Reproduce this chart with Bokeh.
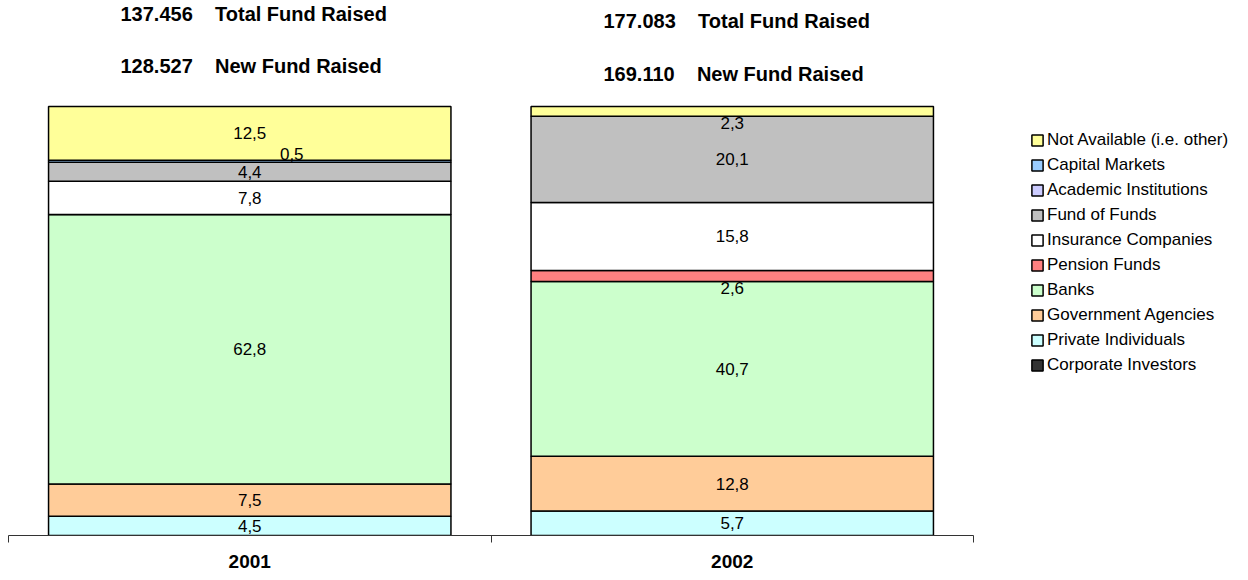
from bokeh.plotting import figure
from bokeh.models import (ColumnDataSource, Range1d, FixedTicker, Legend, LegendItem,
                          Label, LinearAxis)
from bokeh.core.properties import value
from bokeh.embed import file_html
from bokeh.resources import INLINE

# ---------------- data ----------------
years = ["2001", "2002"]
series = ["Corporate Investors", "Private Individuals", "Government Agencies", "Banks",
          "Pension Funds", "Insurance Companies", "Fund of Funds", "Academic Institutions",
          "Capital Markets", "Not Available (i.e. other)"]
corporate = [0.0, 0.0]
private = [4.5, 5.7]
government = [7.5, 12.8]
banks = [62.8, 40.7]
pension = [0.0, 2.6]
insurance = [7.8, 15.8]
fund_of_funds = [4.4, 20.1]
academic = [0.0, 0.0]
capital_markets = [0.5, 0.0]
not_available = [12.5, 2.3]
total_fund_raised = [137.456, 177.083]
new_fund_raised = [128.527, 169.110]

# ---------------- style ----------------
colors = ["#333333", "#CCFFFF", "#FFCC99", "#CCFFCC", "#FF8080", "#FFFFFF",
          "#C0C0C0", "#CCCCFF", "#99CCFF", "#FFFF99"]
# pixel nudges for labels of thin segments (year index, series index) -> (dx, dy)
label_nudge = {(0, 8): (42, -7), (1, 9): (0, 12), (1, 4): (0, 12)}
FONT = "Liberation Sans"
W, H = 1232, 570
TOP, BOTTOM, LEFT, RIGHT = 106, 535, 8, 973   # pixel box of the bars / axis

values = [corporate, private, government, banks, pension, insurance,
          fund_of_funds, academic, capital_markets, not_available]
n = len(years)

xs = [i + 0.5 for i in range(n)]
data = {"x": xs}
keys = []
for k, vals in enumerate(values):
    key = f"s{k}"
    keys.append(key)
    data[key] = vals
src = ColumnDataSource(data)

# frame spans the whole width and everything above the axis
xscale = (RIGHT - LEFT) / n
x0 = -LEFT / xscale
y_end = 100 * BOTTOM / (BOTTOM - TOP)

p = figure(width=W, height=H, output_backend="svg", toolbar_location=None,
           x_range=Range1d(x0, x0 + W / xscale), y_range=Range1d(0, y_end),
           min_border_left=0, min_border_right=0, min_border_top=0,
           min_border_bottom=H - BOTTOM, title=None,
           x_axis_location=None, y_axis_location=None)
p.outline_line_color = None
p.xgrid.visible = False
p.ygrid.visible = False
p.background_fill_color = "white"
p.border_fill_color = "white"

renderers = p.vbar_stack(keys, x="x", width=0.834, source=src, fill_color=colors,
                         line_color="#000000", line_width=1.5)

# data labels
lx, ly, lt, dx, dy = [], [], [], [], []
for i in range(n):
    base = 0.0
    for k, vals in enumerate(values):
        v = vals[i]
        if v > 0:
            lx.append(xs[i])
            ly.append(base + v / 2)
            lt.append(f"{v:.1f}".replace(".", ","))
            ox, oy = label_nudge.get((i, k), (0, 0))
            dx.append(ox)
            dy.append(oy)
        base += v
lsrc = ColumnDataSource(dict(x=lx, y=ly, t=lt, dx=dx, dy=dy))
p.text(x="x", y="y", text="t", x_offset="dx", y_offset="dy", source=lsrc,
       text_font=value(FONT), text_font_size="17px", text_align="center",
       text_baseline="middle", text_color="black")

# x axis with ticks at category boundaries
xaxis = LinearAxis(ticker=FixedTicker(ticks=xs, minor_ticks=list(range(n + 1))),
                   bounds=(0, n))
xaxis.major_label_overrides = {x: y for x, y in zip(xs, years)}
xaxis.major_tick_line_color = None
xaxis.major_tick_out = 0
xaxis.major_tick_in = 0
xaxis.minor_tick_out = 7
xaxis.minor_tick_in = 0
xaxis.minor_tick_line_color = "#333333"
xaxis.axis_line_color = "#333333"
xaxis.major_label_standoff = 12
xaxis.major_label_text_font = FONT
xaxis.major_label_text_font_size = "19px"
xaxis.major_label_text_font_style = "bold"
xaxis.major_label_text_color = "black"
p.add_layout(xaxis, "below")

# legend (reverse of stacking order)
items = [LegendItem(label=series[k], renderers=[renderers[k]]) for k in range(len(series))][::-1]
legend = Legend(items=items, location=(1030, BOTTOM - 375), padding=0, margin=0,
                border_line_color=None, background_fill_alpha=0,
                glyph_width=14, glyph_height=14, label_standoff=3, spacing=5,
                label_height=20, label_text_font=FONT, label_text_font_size="17px",
                label_text_color="black")
p.add_layout(legend)

# header texts (screen positions)
header_pos = [(120, 13, 65), (603, 20, 73)]
for i in range(n):
    hx, hy1, hy2 = header_pos[i]
    for val, txt, hy in ((total_fund_raised[i], "Total Fund Raised", hy1),
                         (new_fund_raised[i], "New Fund Raised", hy2)):
        p.add_layout(Label(x=hx, y=BOTTOM - hy, x_units="screen", y_units="screen",
                           text=f"{val:.3f}\u00a0\u00a0\u00a0\u00a0{txt}",
                           text_font=FONT, text_font_size="20px", text_font_style="bold",
                           text_baseline="middle", text_color="black"))

open("out.html", "w").write(file_html(p, INLINE))
